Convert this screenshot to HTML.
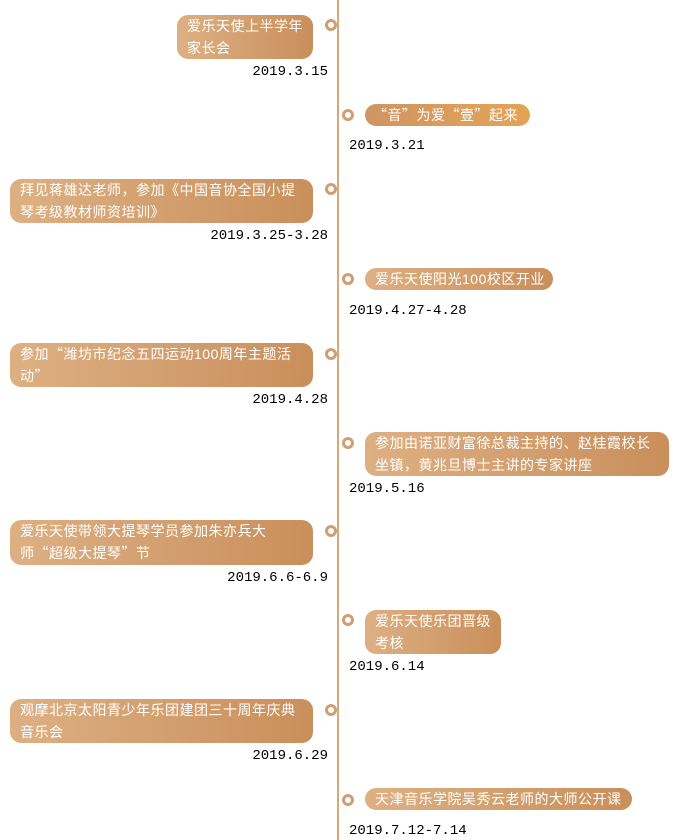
<!DOCTYPE html>
<html><head><meta charset="utf-8"><style>
body{margin:0;width:677px;height:840px;background:#fff;position:relative;overflow:hidden;font-family:"Liberation Sans","Noto Sans CJK SC",sans-serif}
.line{position:absolute;left:337px;top:0;width:2px;height:840px;background:#d8a878}
.b{position:absolute;color:#fff;font-size:14px;letter-spacing:0.5px;line-height:22px;padding:0 6px 0 10px;box-sizing:border-box;border-radius:11px;background:linear-gradient(90deg,#ddb083,#c98f5b);overflow:hidden;white-space:nowrap}
.q{font-family:"Noto Sans CJK SC",sans-serif}
.c{position:absolute;width:12px;height:12px;border-radius:50%;border:3.5px solid #cf9f74;box-sizing:border-box;background:#fff}
.d{position:absolute;font-family:"Liberation Mono",monospace;font-size:14px;color:#000;line-height:16px}
.dl{text-align:right;right:349px}
</style></head><body>
<div class="line"></div>

<div class="b" style="left:177px;top:15px;width:136px;height:44px">爱乐天使上半学年<br>家长会</div>
<div class="c" style="left:325px;top:19px"></div>
<div class="d dl" style="top:64px">2019.3.15</div>

<div class="b" style="left:365px;top:104px;width:165px;height:22px;padding-left:8px;background:linear-gradient(90deg,#cf9563,#e4a455)"><span class="q">“</span>音<span class="q">”</span>为爱<span class="q">“</span>壹<span class="q">”</span>起来</div>
<div class="c" style="left:342px;top:109px"></div>
<div class="d" style="left:349px;top:138px">2019.3.21</div>

<div class="b" style="left:10px;top:179px;width:303px;height:44px">拜见蒋雄达老师，参加《中国音协全国小提<br>琴考级教材师资培训》</div>
<div class="c" style="left:325px;top:183px"></div>
<div class="d dl" style="top:228px">2019.3.25-3.28</div>

<div class="b" style="left:365px;top:268px;width:188px;height:22px">爱乐天使阳光100校区开业</div>
<div class="c" style="left:342px;top:273px"></div>
<div class="d" style="left:349px;top:303px">2019.4.27-4.28</div>

<div class="b" style="left:10px;top:343px;width:303px;height:44px">参加<span class="q">“</span>潍坊市纪念五四运动100周年主题活<br>动<span class="q">”</span></div>
<div class="c" style="left:325px;top:348px"></div>
<div class="d dl" style="top:392px">2019.4.28</div>

<div class="b" style="left:365px;top:432px;width:304px;height:44px">参加由诺亚财富徐总裁主持的、赵桂霞校长<br>坐镇，黄兆旦博士主讲的专家讲座</div>
<div class="c" style="left:342px;top:437px"></div>
<div class="d" style="left:349px;top:481px">2019.5.16</div>

<div class="b" style="left:10px;top:520px;width:303px;height:45px">爱乐天使带领大提琴学员参加朱亦兵大<br>师<span class="q">“</span>超级大提琴<span class="q">”</span>节</div>
<div class="c" style="left:325px;top:525px"></div>
<div class="d dl" style="top:570px">2019.6.6-6.9</div>

<div class="b" style="left:365px;top:610px;width:136px;height:44px">爱乐天使乐团晋级<br>考核</div>
<div class="c" style="left:342px;top:614px"></div>
<div class="d" style="left:349px;top:659px">2019.6.14</div>

<div class="b" style="left:10px;top:699px;width:303px;height:44px">观摩北京太阳青少年乐团建团三十周年庆典<br>音乐会</div>
<div class="c" style="left:325px;top:704px"></div>
<div class="d dl" style="top:748px">2019.6.29</div>

<div class="b" style="left:365px;top:788px;width:267px;height:22px">天津音乐学院吴秀云老师的大师公开课</div>
<div class="c" style="left:342px;top:794px"></div>
<div class="d" style="left:349px;top:823px">2019.7.12-7.14</div>
</body></html>
